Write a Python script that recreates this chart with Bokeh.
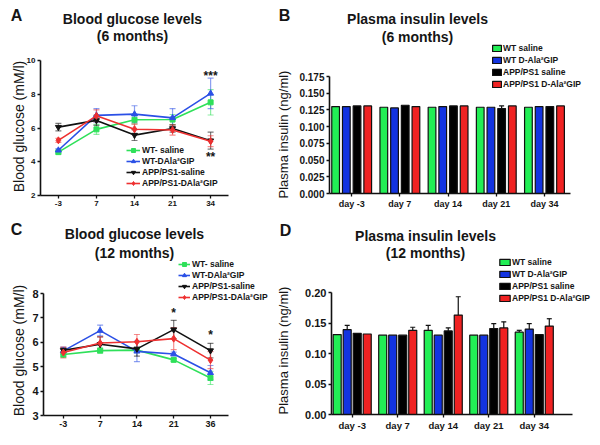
from math import pi
from bokeh.plotting import figure
from bokeh.layouts import column, row
from bokeh.models import (Range1d, FixedTicker, Label, Legend, LegendItem,
                          Whisker, TeeHead, ColumnDataSource)
from bokeh.embed import file_html
from bokeh.resources import INLINE

FONT = "Liberation Sans"

# ---------------- data ----------------
days_6m = ["-3", "7", "14", "21", "34"]
days_12m = ["-3", "7", "14", "21", "36"]
bar_days = ["day -3", "day 7", "day 14", "day 21", "day 34"]

line_names = ["WT- saline", "WT-DAla\u00b2GIP", "APP/PS1-saline", "APP/PS1-DAla\u00b2GIP"]
bar_names = ["WT saline", "WT D-Ala\u00b2GIP", "APP/PS1 saline", "APP/PS1 D-Ala\u00b2GIP"]

# Blood glucose 6 months (mM/l) and SEM
glu6_wt_sal = [4.57, 5.92, 6.49, 6.50, 7.52]
glu6_wt_gip = [4.68, 6.75, 6.82, 6.60, 8.05]
glu6_app_sal = [6.05, 6.45, 5.58, 5.97, 5.25]
glu6_app_gip = [5.27, 6.72, 5.93, 5.88, 5.22]
glu6_err_wt_sal = [0.10, 0.30, 0.25, 0.30, 0.75]
glu6_err_wt_gip = [0.10, 0.40, 0.50, 0.55, 0.90]
glu6_err_app_sal = [0.22, 0.30, 0.32, 0.22, 0.50]
glu6_err_app_gip = [0.12, 0.35, 0.30, 0.30, 0.32]

# Blood glucose 12 months (mM/l) and SEM
glu12_wt_sal = [5.50, 5.66, 5.68, 5.28, 4.54]
glu12_wt_gip = [5.65, 6.48, 5.63, 5.52, 4.75]
glu12_app_sal = [5.67, 5.92, 5.73, 6.52, 5.66]
glu12_app_gip = [5.58, 5.97, 6.02, 6.15, 5.27]
glu12_err_wt_sal = [0.12, 0.10, 0.08, 0.06, 0.27]
glu12_err_wt_gip = [0.15, 0.22, 0.42, 0.08, 0.30]
glu12_err_app_sal = [0.10, 0.30, 0.30, 0.38, 0.30]
glu12_err_app_gip = [0.22, 0.25, 0.30, 0.45, 0.35]

# Plasma insulin 6 months (ng/ml) and SEM
ins6_wt_sal = [0.130, 0.129, 0.129, 0.129, 0.129]
ins6_wt_gip = [0.130, 0.128, 0.130, 0.129, 0.130]
ins6_app_sal = [0.131, 0.132, 0.131, 0.127, 0.130]
ins6_app_gip = [0.131, 0.130, 0.131, 0.131, 0.131]
ins6_err_wt_sal = [0, 0, 0, 0, 0]
ins6_err_wt_gip = [0, 0, 0, 0, 0]
ins6_err_app_sal = [0, 0, 0, 0.004, 0]
ins6_err_app_gip = [0, 0, 0, 0, 0]

# Plasma insulin 12 months (ng/ml) and SEM
ins12_wt_sal = [0.131, 0.130, 0.138, 0.130, 0.135]
ins12_wt_gip = [0.139, 0.130, 0.130, 0.130, 0.140]
ins12_app_sal = [0.133, 0.130, 0.137, 0.141, 0.131]
ins12_app_gip = [0.132, 0.138, 0.163, 0.142, 0.145]
ins12_err_wt_sal = [0, 0, 0.008, 0, 0.003]
ins12_err_wt_gip = [0.007, 0, 0, 0, 0.009]
ins12_err_app_sal = [0, 0, 0.005, 0.008, 0]
ins12_err_app_gip = [0, 0.005, 0.030, 0.010, 0.012]

glu_ticks_6 = [2, 4, 6, 8, 10]
glu_ticks_12 = [3, 4, 5, 6, 7, 8]
ins_ticks_6 = [0.0, 0.025, 0.05, 0.075, 0.1, 0.125, 0.15, 0.175]
ins_ticks_12 = [0.0, 0.05, 0.10, 0.15, 0.20]

# ---------------- styles ----------------
LINE_COLORS = ["#2fe05a", "#2b50e6", "#111111", "#ee3030"]
BAR_COLORS = ["#22ee55", "#1233e0", "#000000", "#f02222"]
MARKERS = ["square", "triangle", "inverted_triangle", "diamond"]
MSIZES = [5, 6, 6, 7]
TXT = "#151515"

ROW_H = 221
COL1_X, COL2_X = 0, 274
COL1_W, COL2_W = 274, 324
ROW1_Y, ROW2_Y = 0, ROW_H

# plot-area geometry in page pixels
gA = dict(L=40, T=60, W=188, H=135, xr=(-0.47, 4.47), yr=(2, 10))
gB = dict(L=329, T=76, W=241, H=117, xr=(-0.46, 4.54), yr=(0, 0.175))
gC = dict(L=43, T=293, W=185, H=122, xr=(-0.54, 4.49), yr=(3, 8))
gD = dict(L=331, T=292, W=241, H=122, xr=(-0.455, 4.84), yr=(0, 0.20))


def to_data(g, px, py):
    x0, x1 = g["xr"]
    y0, y1 = g["yr"]
    x = x0 + (px - g["L"]) / g["W"] * (x1 - x0)
    y = y1 - (py - g["T"]) / g["H"] * (y1 - y0)
    return x, y


def make_fig(g, ox, oy, fw, yticks, ylab_size, xlab_size, xlabels, yfmt=None):
    xs, ye = to_data(g, ox, oy)
    xe, ys = to_data(g, ox + fw, oy + ROW_H)
    p = figure(frame_width=fw, frame_height=ROW_H,
               min_border_left=0, min_border_right=0,
               min_border_top=0, min_border_bottom=0,
               x_range=Range1d(xs, xe), y_range=Range1d(ys, ye),
               output_backend="svg", toolbar_location=None, tools="")
    p.xgrid.visible = False
    p.ygrid.visible = False
    p.outline_line_color = None
    p.background_fill_color = "white"
    p.border_fill_color = "white"
    x0, x1 = g["xr"]
    y0, y1 = g["yr"]
    p.yaxis[0].fixed_location = x0
    p.yaxis[0].bounds = (y0, y1)
    p.xaxis[0].fixed_location = y0
    p.xaxis[0].bounds = (x0, x1)
    for ax in (p.xaxis[0], p.yaxis[0]):
        ax.axis_line_width = 1.6
        ax.axis_line_color = "#111"
        ax.major_tick_line_width = 1.3
        ax.major_tick_line_color = "#111"
        ax.major_tick_out = 3
        ax.major_tick_in = 0
        ax.minor_tick_out = 0
        ax.minor_tick_in = 0
        ax.major_label_text_font = FONT
        ax.major_label_text_font_style = "bold"
        ax.major_label_text_color = TXT
        ax.major_label_standoff = 2
    p.yaxis[0].ticker = FixedTicker(ticks=yticks)
    p.yaxis[0].major_label_text_font_size = ylab_size
    if yfmt:
        p.yaxis[0].major_label_overrides = {t: yfmt.format(t) for t in yticks}
    idx = list(range(len(xlabels)))
    p.xaxis[0].ticker = FixedTicker(ticks=idx)
    p.xaxis[0].major_label_overrides = {i: s for i, s in zip(idx, xlabels)}
    p.xaxis[0].major_label_text_font_size = xlab_size
    return p


def lab(p, g, px, py, text, size, style="bold", align="center", angle=0):
    x, y = to_data(g, px, py)
    p.add_layout(Label(x=x, y=y, text=text, text_font=FONT, text_font_size=size,
                       text_font_style=style, text_align=align, text_baseline="middle",
                       angle=angle, text_color=TXT))


def star(p, x, y, text):
    p.add_layout(Label(x=x, y=y, text=text, text_font=FONT, text_font_size="12px",
                       text_font_style="bold", text_align="center",
                       text_baseline="middle", text_color=TXT))


def leg_loc(ox, oy, px, py_bottom):
    return (px - ox, oy + ROW_H - py_bottom)


def line_panel(p, series, errs, loc, glyph_w):
    idx = list(range(len(series[0])))
    items = []
    for k, (vals, err) in enumerate(zip(series, errs)):
        c = LINE_COLORS[k]
        src = ColumnDataSource(dict(x=idx, y=vals,
                                    lo=[v - e for v, e in zip(vals, err)],
                                    hi=[v + e for v, e in zip(vals, err)]))
        p.add_layout(Whisker(base="x", lower="lo", upper="hi", source=src,
                             line_color=c, line_alpha=0.55, line_width=1.2,
                             upper_head=TeeHead(size=6, line_color=c, line_alpha=0.55, line_width=1.2),
                             lower_head=TeeHead(size=6, line_color=c, line_alpha=0.55, line_width=1.2)))
        lr = p.line("x", "y", source=src, line_color=c, line_width=1.6)
        sr = p.scatter("x", "y", source=src, marker=MARKERS[k], size=MSIZES[k],
                       fill_color=c, line_color=c)
        items.append(LegendItem(label=line_names[k], renderers=[lr, sr]))
    leg = Legend(items=items, location=loc, border_line_color=None,
                 background_fill_alpha=0, padding=0, margin=0, spacing=1,
                 glyph_width=glyph_w, glyph_height=10, label_height=10,
                 label_standoff=2, label_text_font=FONT, label_text_font_size="8.5px",
                 label_text_font_style="bold", label_text_color=TXT)
    p.add_layout(leg)


def bar_panel(p, series, errs, step, width, loc, glyph_w):
    n = len(series)
    idx = list(range(len(series[0])))
    items = []
    ex, elo, ehi = [], [], []
    for k, (vals, err) in enumerate(zip(series, errs)):
        off = (k - (n - 1) / 2) * step
        xs = [i + off for i in idx]
        r = p.vbar(x=xs, top=vals, width=width, fill_color=BAR_COLORS[k],
                   line_color="#111", line_width=1.2)
        items.append(LegendItem(label=bar_names[k], renderers=[r]))
        for x, v, e in zip(xs, vals, err):
            if e > 0:
                ex.append(x); elo.append(v); ehi.append(v + e)
    src = ColumnDataSource(dict(x=ex, lo=elo, hi=ehi))
    p.add_layout(Whisker(base="x", lower="lo", upper="hi", source=src,
                         line_color="#111", line_width=1.2, lower_head=None,
                         upper_head=TeeHead(size=5, line_color="#111", line_width=1.2)))
    leg = Legend(items=items, location=loc, border_line_color=None,
                 background_fill_alpha=0, padding=0, margin=0, spacing=2,
                 glyph_width=glyph_w, glyph_height=8, label_height=9,
                 label_standoff=1, label_text_font=FONT, label_text_font_size="8.5px",
                 label_text_font_style="bold", label_text_color=TXT)
    p.add_layout(leg)


# ---------------- panel A ----------------
pA = make_fig(gA, COL1_X, ROW1_Y, COL1_W, glu_ticks_6, "8px", "8px", days_6m)
line_panel(pA, [glu6_wt_sal, glu6_wt_gip, glu6_app_sal, glu6_app_gip],
           [glu6_err_wt_sal, glu6_err_wt_gip, glu6_err_app_sal, glu6_err_app_gip],
           leg_loc(COL1_X, ROW1_Y, 126, 188), 14)
lab(pA, gA, 16, 15, "A", "16px")
lab(pA, gA, 132, 18, "Blood glucose levels", "14px")
lab(pA, gA, 132, 35, "(6 months)", "14px")
lab(pA, gA, 18, 126, "Blood glucose (mM/l)", "14px", style="normal", angle=pi / 2)
star(pA, 4, 9.1, "***")
star(pA, 4, 4.3, "**")

# ---------------- panel B ----------------
pB = make_fig(gB, COL2_X, ROW1_Y, COL2_W, ins_ticks_6, "10px", "9px", bar_days, "{:.3f}")
bar_panel(pB, [ins6_wt_sal, ins6_wt_gip, ins6_app_sal, ins6_app_gip],
          [ins6_err_wt_sal, ins6_err_wt_gip, ins6_err_app_sal, ins6_err_app_gip],
          0.222, 0.16, leg_loc(COL2_X, ROW1_Y, 491, 89), 11)
lab(pB, gB, 284, 15, "B", "16px")
lab(pB, gB, 417, 18, "Plasma insulin levels", "14px")
lab(pB, gB, 417, 36, "(6 months)", "14px")
lab(pB, gB, 283, 134, "Plasma insulin (ng/ml)", "13px", style="normal", angle=pi / 2)

# ---------------- panel C ----------------
pC = make_fig(gC, COL1_X, ROW2_Y, COL1_W, glu_ticks_12, "11px", "9px", days_12m)
line_panel(pC, [glu12_wt_sal, glu12_wt_gip, glu12_app_sal, glu12_app_gip],
           [glu12_err_wt_sal, glu12_err_wt_gip, glu12_err_app_sal, glu12_err_app_gip],
           leg_loc(COL1_X, ROW2_Y, 178, 302), 12)
lab(pC, gC, 16, 229, "C", "16px")
lab(pC, gC, 134, 233, "Blood glucose levels", "14px")
lab(pC, gC, 134, 252, "(12 months)", "14px")
lab(pC, gC, 18, 350, "Blood glucose (mM/l)", "14px", style="normal", angle=pi / 2)
star(pC, 3, 7.2, "*")
star(pC, 4, 6.3, "*")

# ---------------- panel D ----------------
pD = make_fig(gD, COL2_X, ROW2_Y, COL2_W, ins_ticks_12, "11px", "9.5px", bar_days, "{:.2f}")
bar_panel(pD, [ins12_wt_sal, ins12_wt_gip, ins12_app_sal, ins12_app_gip],
          [ins12_err_wt_sal, ins12_err_wt_gip, ins12_err_app_sal, ins12_err_app_gip],
          0.22, 0.176, leg_loc(COL2_X, ROW2_Y, 498, 303), 13)
lab(pD, gD, 285, 230, "D", "16px")
lab(pD, gD, 425, 235, "Plasma insulin levels", "14px")
lab(pD, gD, 425, 252, "(12 months)", "14px")
lab(pD, gD, 283, 350, "Plasma insulin (ng/ml)", "13px", style="normal", angle=pi / 2)

layout = column(row(pA, pB), row(pC, pD))

with open("out.html", "w") as f:
    f.write(file_html(layout, INLINE))
